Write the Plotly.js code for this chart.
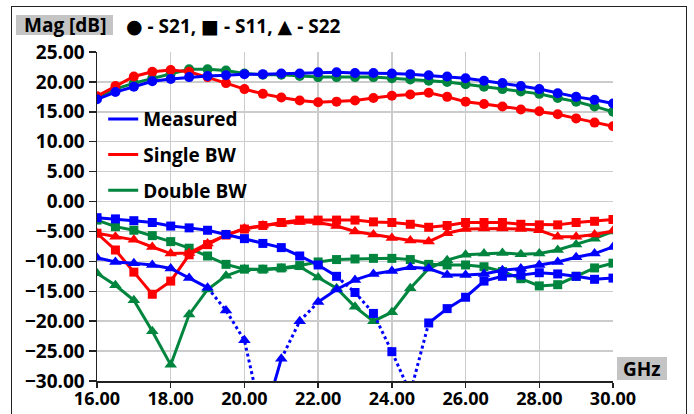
<!DOCTYPE html>
<html><head><meta charset="utf-8">
<script src="https://cdn.plot.ly/plotly-3.0.1.min.js"></script>
<style>
html,body{margin:0;padding:0;background:#fff;overflow:hidden}
#chart{position:absolute;left:0;top:0;width:694px;height:414px}
#frame{position:absolute;left:11px;top:6px;width:676px;height:440px;border:1.5px solid #222;box-sizing:border-box;pointer-events:none}
</style></head><body>
<div id="chart"></div><div id="frame"></div>
<script>
// Frequency axis (GHz)
const freqGHz = [16,16.5,17,17.5,18,18.5,19,19.5,20,20.5,21,21.5,22,22.5,23,23.5,24,24.5,25,25.5,26,26.5,27,27.5,28,28.5,29,29.5,30];

// S21 (dB)
const s21Measured = [17.1,18.3,19.2,20.1,20.5,20.8,21.0,21.1,21.3,21.3,21.4,21.4,21.6,21.6,21.5,21.5,21.4,21.3,21.1,20.9,20.6,20.2,19.8,19.3,18.8,18.1,17.5,17.0,16.4];
const s21Single   = [17.6,19.3,20.9,21.7,22.0,21.7,20.8,19.8,18.8,18.0,17.4,16.9,16.6,16.7,16.9,17.3,17.7,17.9,18.2,17.5,16.7,16.3,15.9,15.4,15.1,14.6,13.9,13.2,12.6];
const s21Double   = [17.4,18.8,19.8,20.6,21.4,22.1,22.1,21.9,21.4,21.2,21.2,21.0,20.8,20.8,20.8,20.8,20.6,20.4,20.2,20.0,19.6,19.2,18.8,18.4,18.0,17.3,16.7,15.9,15.0];

// S11 (dB)
const s11Measured = [-2.7,-2.9,-3.2,-3.5,-4.1,-4.4,-4.8,-5.5,-6.2,-7.0,-7.7,-9.1,-10.6,-12.5,-15.2,-18.7,-25.1,-32.0,-20.3,-17.9,-16.0,-13.3,-12.5,-12.3,-11.9,-12.1,-12.5,-13.0,-12.8];
const s11Single   = [-5.3,-8.1,-11.8,-15.5,-13.3,-8.9,-7.2,-5.6,-4.6,-4.0,-3.5,-3.1,-3.1,-3.1,-3.1,-3.4,-3.5,-3.8,-4.3,-4.0,-3.5,-3.5,-3.5,-3.8,-3.9,-3.9,-3.5,-3.3,-3.0];
const s11Double   = [-3.1,-4.2,-4.8,-5.7,-6.7,-7.8,-9.1,-10.5,-11.3,-11.3,-11.1,-10.7,-10.1,-9.7,-9.6,-9.5,-9.5,-9.7,-10.5,-10.6,-10.6,-10.9,-11.7,-12.9,-14.1,-13.9,-12.5,-11.1,-10.3];

// S22 (dB)
const s22Measured = [-9.4,-10.1,-10.3,-10.6,-11.2,-12.8,-14.4,-18.2,-23.2,-37.0,-26.3,-20.0,-16.8,-14.7,-13.1,-12.1,-11.6,-11.0,-11.2,-12.3,-12.3,-12.1,-11.5,-11.2,-10.6,-10.1,-9.3,-8.7,-7.6];
const s22Single   = [-5.3,-5.9,-6.4,-7.6,-8.7,-8.6,-7.0,-5.6,-4.5,-4.0,-3.7,-3.4,-3.5,-4.1,-5.0,-5.5,-6.1,-6.5,-6.7,-5.3,-4.6,-4.5,-4.5,-4.6,-4.8,-5.9,-5.9,-5.5,-4.9];
const s22Double   = [-12.0,-14.0,-16.5,-21.7,-27.3,-18.9,-14.7,-12.4,-11.3,-11.4,-11.2,-10.9,-12.7,-14.5,-17.6,-20.0,-18.5,-14.5,-11.2,-9.8,-8.9,-8.7,-8.6,-8.8,-8.7,-8.1,-7.2,-6.2,-5.0];

// segments (start index) drawn dotted
const s11MeasuredDotted = [13,14,15,16,17];
const s22MeasuredDotted = [6,7,8,10,11];

const legendNames = ['Measured','Single BW','Double BW'];
const yTickVals = [25,20,15,10,5,0,-5,-10,-15,-20,-25,-30];
const xTickVals = [16,18,20,22,24,26,28,30];
const titleText = 'Mag [dB]';
const symbolKeyText = '\u25CF - S21, \u25A0 - S11, \u25B2 - S22';
const unitText = 'GHz';

const BLUE='#0000ff', RED='#ff0000', GREEN='#00853e';
const FONT='Open Sans, Noto Sans, DejaVu Sans, sans-serif';
const BOXGRAY='#c4c4c4';

function lineTraces(y, color, dotted, width){
  const out=[]; const n=y.length;
  let a=0, style=dotted.includes(0)?'dot':'solid';
  for(let i=1;i<n;i++){
    const s = (i<n-1) ? (dotted.includes(i)?'dot':'solid') : null;
    if(s!==style){
      out.push({x:freqGHz.slice(a,i+1), y:y.slice(a,i+1), mode:'lines', type:'scatter',
        line:{color:color,width:width,dash:style}, showlegend:false, hoverinfo:'skip'});
      a=i; style=s;
    }
  }
  return out;
}
function markerTrace(y,color,symbol,size){
  return {x:freqGHz, y:y, mode:'markers', type:'scatter', cliponaxis:true,
    marker:{color:color,symbol:symbol,size:size,line:{width:0}}, showlegend:false};
}
function series(y,color,symbol,size,dotted){
  return lineTraces(y,color,dotted||[],3).concat([markerTrace(y,color,symbol,size)]);
}

let data=[];
data=data.concat(series(s22Double,GREEN,'triangle-up',11));
data=data.concat(series(s11Double,GREEN,'square',9));
data=data.concat(series(s21Double,GREEN,'circle',10));
data=data.concat(series(s22Single,RED,'triangle-up',11));
data=data.concat(series(s11Single,RED,'square',9));
data=data.concat(series(s21Single,RED,'circle',10));
data=data.concat(series(s22Measured,BLUE,'triangle-up',11,s22MeasuredDotted));
data=data.concat(series(s11Measured,BLUE,'square',9,s11MeasuredDotted));
data=data.concat(series(s21Measured,BLUE,'circle',10));

[[legendNames[0],BLUE],[legendNames[1],RED],[legendNames[2],GREEN]].forEach(function(e,i){
  data.push({x:[null],y:[null],mode:'lines',type:'scatter',name:e[0],legendgroup:'g'+i,
    line:{color:e[1],width:3},showlegend:true});
});

// plot area in pixels: x 97..613, y 52..381
function px(x){return (x-97)/516;}
function py(y){return (381-y)/329;}

const tf={family:FONT,size:19,weight:'bold',color:'#000'};
const layout={
  width:694,height:414,
  margin:{l:97,r:81,t:52,b:33,pad:0},
  paper_bgcolor:'#ffffff',plot_bgcolor:'#ffffff',
  font:tf,
  showlegend:true,
  legend:{x:0.012,y:0.854,xanchor:'left',yanchor:'top',bgcolor:'rgba(0,0,0,0)',borderwidth:0,
    tracegroupgap:8,itemwidth:30,font:tf},
  xaxis:{range:[16,30],tickvals:xTickVals,tickformat:'.2f',showgrid:true,gridcolor:'#cccccc',gridwidth:1.5,
    showline:true,linecolor:'#222',linewidth:1.5,ticks:'outside',ticklen:5,tickcolor:'#222',tickwidth:1.5,
    ticklabelstandoff:-4,zeroline:false,tickfont:{family:FONT,size:18,weight:'bold',color:'#000'},fixedrange:true},
  yaxis:{range:[-30,25],tickvals:yTickVals,tickformat:'.2f',showgrid:true,gridcolor:'#cccccc',gridwidth:1.5,
    showline:true,linecolor:'#222',linewidth:1.5,ticks:'outside',ticklen:7,tickcolor:'#222',tickwidth:1.5,
    zeroline:false,tickfont:tf,fixedrange:true},
  shapes:[
    {type:'rect',xref:'paper',yref:'paper',x0:px(16),x1:px(113),y0:py(35),y1:py(15),fillcolor:BOXGRAY,line:{width:0},layer:'below'},
    {type:'rect',xref:'paper',yref:'paper',x0:px(617),x1:px(667),y0:py(380),y1:py(357),fillcolor:BOXGRAY,line:{width:0},layer:'below'}
  ],
  annotations:[
    {text:titleText,xref:'paper',yref:'paper',x:px(64.5),y:py(25),xanchor:'center',yanchor:'middle',
     showarrow:false,font:{family:FONT,size:19,weight:'bold',color:'#000'}},
    {text:symbolKeyText,xref:'paper',yref:'paper',x:px(124),y:py(26),
     xanchor:'left',yanchor:'middle',showarrow:false,font:{family:FONT,size:19,weight:'bold',color:'#000'}},
    {text:unitText,xref:'paper',yref:'paper',x:px(642),y:py(368.5),xanchor:'center',yanchor:'middle',
     showarrow:false,font:{family:FONT,size:19,weight:'bold',color:'#000'}}
  ]
};
Plotly.newPlot('chart',data,layout,{staticPlot:true,displayModeBar:false});
</script>
</body></html>
